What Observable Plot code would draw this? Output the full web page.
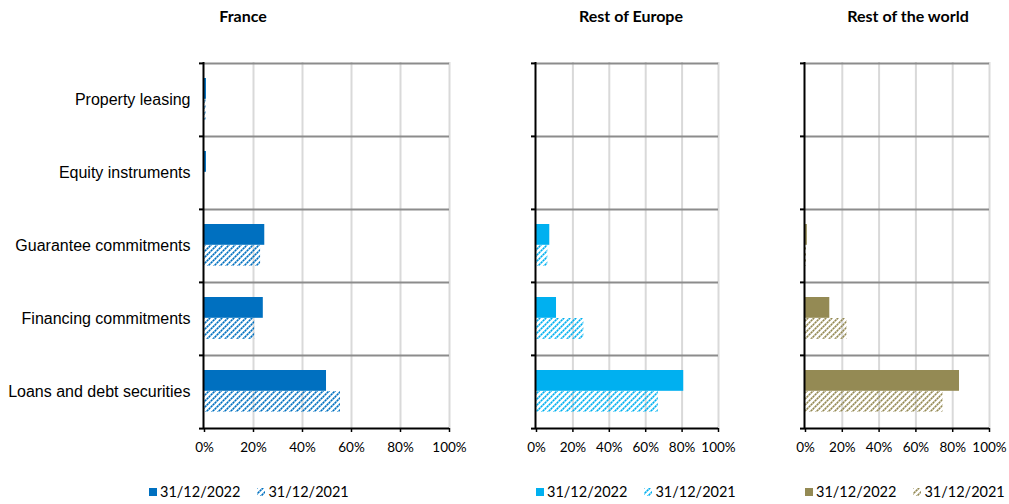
<!DOCTYPE html>
<html>
<head>
<meta charset="utf-8">
<script src="https://cdn.jsdelivr.net/npm/d3@7"></script>
<script src="https://cdn.jsdelivr.net/npm/@observablehq/plot@0.6"></script>
<style>
  html, body { margin: 0; padding: 0; background: #fff; }
  #chart { position: relative; width: 1009px; height: 504px; overflow: hidden; font-family: Lato, "Open Sans", sans-serif; }
  .panel { position: absolute; top: 0; }
  .title { position: absolute; top: 6px; font-weight: 700; font-size: 16px; color: #000; transform: translateX(-50%); white-space: nowrap; }
  .legend { position: absolute; top: 483px; display: flex; align-items: center; font-size: 14.5px; color: #000; white-space: nowrap; }
  .legend svg { margin-right: 3px; }
  .legend .item { display: flex; align-items: center; margin-right: 17px; }
</style>
</head>
<body>
<div id="chart"></div>
<script>
// Exposure categories, top to bottom
const categories = [
  "Property leasing",
  "Equity instruments",
  "Guarantee commitments",
  "Financing commitments",
  "Loans and debt securities"
];
const seriesLabels = ["31/12/2022", "31/12/2021"];
const xTicks = [0, 20, 40, 60, 80, 100];

// Share of exposure per category (%)
const france2022 = [0.8, 0.8, 24.6, 24.0, 49.8];
const france2021 = [0.6, 0.0, 22.9, 20.5, 55.5];
const europe2022 = [0.0, 0.0, 7.3, 11.0, 80.9];
const europe2021 = [0.0, 0.0, 6.2, 26.0, 66.9];
const world2022 = [0.0, 0.0, 1.0, 13.2, 83.7];
const world2021 = [0.0, 0.0, 0.5, 22.6, 74.8];

const panels = [
  {id: "fr", title: "France", color: "#0070C0", v2022: france2022, v2021: france2021,
   left: 0, marginLeft: 204, plotWidth: 245, marginRight: 25, showLabels: true, titleX: 243,
   legendX: 149},
  {id: "eu", title: "Rest of Europe", color: "#00B0F0", v2022: europe2022, v2021: europe2021,
   left: 480, marginLeft: 56, plotWidth: 182, marginRight: 25, showLabels: false, titleX: 631,
   legendX: 536},
  {id: "rw", title: "Rest of the world", color: "#948A54", v2022: world2022, v2021: world2021,
   left: 760, marginLeft: 45, plotWidth: 184, marginRight: 20, showLabels: false, titleX: 908,
   legendX: 805}
];

const height = 470, marginTop = 62, marginBottom = 42;
const bandwidth = (height - marginTop - marginBottom) / categories.length;
const chart = document.getElementById("chart");
const svgNS = "http://www.w3.org/2000/svg";

// Wide upward diagonal hatch used for the previous-year bars:
// a pale stripe with darker dashes on top of it
function hatchPattern(id, color) {
  const pattern = document.createElementNS(svgNS, "pattern");
  pattern.setAttribute("id", id);
  pattern.setAttribute("patternUnits", "userSpaceOnUse");
  pattern.setAttribute("width", 6);
  pattern.setAttribute("height", 6);
  const d = "M-1,7 L7,-1 M-4,4 L4,-4 M2,10 L10,2";
  const pale = document.createElementNS(svgNS, "path");
  pale.setAttribute("d", d);
  pale.setAttribute("stroke", color);
  pale.setAttribute("stroke-opacity", 0.45);
  pale.setAttribute("stroke-width", 1.6);
  const dash = document.createElementNS(svgNS, "path");
  dash.setAttribute("d", d);
  dash.setAttribute("stroke", color);
  dash.setAttribute("stroke-width", 1.6);
  dash.setAttribute("stroke-dasharray", "1.6,1.2");
  pattern.appendChild(pale);
  pattern.appendChild(dash);
  return pattern;
}

function addDefs(svg, id, color) {
  let defs = svg.querySelector("defs");
  if (!defs) { defs = document.createElementNS(svgNS, "defs"); svg.insertBefore(defs, svg.firstChild); }
  defs.appendChild(hatchPattern(id, color));
}

for (const p of panels) {
  const rows2022 = categories.map((c, i) => ({category: c, value: p.v2022[i]}));
  const rows2021 = categories.map((c, i) => ({category: c, value: p.v2021[i]}));
  const hatchId = "hatch-" + p.id;
  const last = categories[categories.length - 1];

  const svg = Plot.plot({
    width: p.marginLeft + p.plotWidth + p.marginRight,
    height, marginTop, marginBottom,
    marginLeft: p.marginLeft, marginRight: p.marginRight,
    style: {fontFamily: "Lato, 'Open Sans', sans-serif", background: "#fff", overflow: "visible"},
    x: {domain: [0, 100], axis: null, label: null},
    y: {domain: categories, padding: 0, axis: null, label: null},
    marks: [
      Plot.gridX(xTicks.slice(1), {stroke: "#d9d9d9", strokeOpacity: 1, strokeWidth: 2}),
      // category separators at the top edge of each band
      Plot.ruleY(categories, {stroke: "#8c8c8c", strokeWidth: 2, dy: -bandwidth / 2}),
      Plot.barX(rows2022, {x: "value", y: "category", fill: p.color, insetTop: 15, insetBottom: bandwidth - 36}),
      Plot.barX(rows2021, {x: "value", y: "category", fill: `url(#${hatchId})`, insetTop: 36, insetBottom: bandwidth - 57}),
      // bottom axis line
      Plot.ruleY([last], {stroke: "#000", strokeWidth: 2, dy: bandwidth / 2}),
      Plot.axisX(xTicks, {tickSize: 4, tickPadding: 10, fontSize: 13.5, label: null, tickFormat: d => d + "%", stroke: "#000", strokeWidth: 1.5}),
      // small outward ticks at band boundaries
      Plot.axisY(categories, {tickSize: 5, label: null, tickFormat: () => "", dy: -bandwidth / 2, stroke: "#000", strokeWidth: 2}),
      Plot.axisY([last], {tickSize: 5, label: null, tickFormat: () => "", dy: bandwidth / 2, stroke: "#000", strokeWidth: 2}),
      p.showLabels
        ? Plot.axisY(categories, {tickSize: 0, tickPadding: 14, label: null, fontSize: 16, fontFamily: "'Liberation Sans', Arial, sans-serif"})
        : null,
      // vertical axis line, kept just left of the bars' baseline
      Plot.ruleX([0], {stroke: "#000", strokeWidth: 2, dx: -1})
    ]
  });
  addDefs(svg, hatchId, p.color);
  svg.classList.add("panel");
  svg.style.left = p.left + "px";
  chart.appendChild(svg);

  const title = document.createElement("div");
  title.className = "title";
  title.style.left = p.titleX + "px";
  title.textContent = p.title;
  chart.appendChild(title);

  // legend: solid swatch for the latest year, hatched for the previous one
  const legend = document.createElement("div");
  legend.className = "legend";
  legend.style.left = p.legendX + "px";
  seriesLabels.forEach((label, k) => {
    const item = document.createElement("div");
    item.className = "item";
    const sw = document.createElementNS(svgNS, "svg");
    sw.setAttribute("width", 8);
    sw.setAttribute("height", 8);
    const swId = "sw-" + p.id + "-" + k;
    if (k === 1) {
      const defs = document.createElementNS(svgNS, "defs");
      defs.appendChild(hatchPattern(swId, p.color));
      sw.appendChild(defs);
    }
    const r = document.createElementNS(svgNS, "rect");
    r.setAttribute("width", 8);
    r.setAttribute("height", 8);
    r.setAttribute("fill", k === 0 ? p.color : `url(#${swId})`);
    sw.appendChild(r);
    item.appendChild(sw);
    const t = document.createElement("span");
    t.textContent = label;
    item.appendChild(t);
    legend.appendChild(item);
  });
  chart.appendChild(legend);
}
</script>
</body>
</html>
